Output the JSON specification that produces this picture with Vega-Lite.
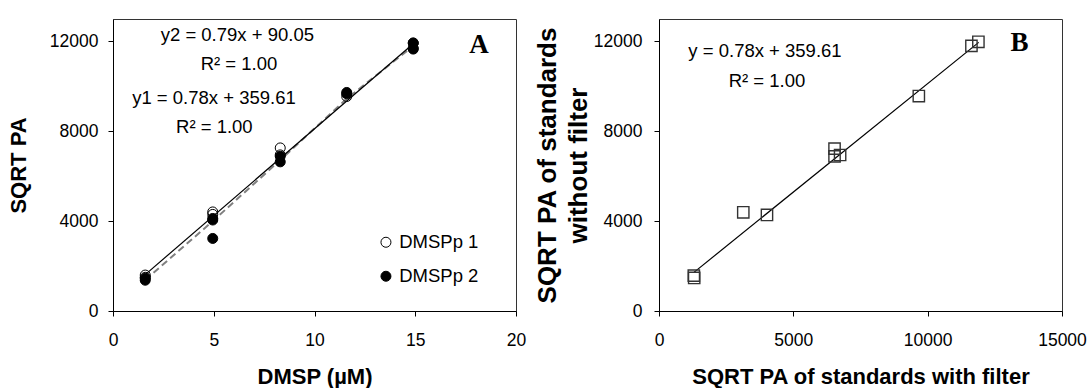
{
  "$schema": "https://vega.github.io/schema/vega-lite/v6.json",
  "padding": {"left": 6, "top": 18, "right": 0, "bottom": 0},
  "spacing": 143,
  "bounds": "flush",
  "background": "white",
  "config": {
    "font": "Liberation Sans",
    "view": {"stroke": "#333333", "strokeWidth": 1},
    "axis": {
      "grid": false, "domainColor": "black", "domainWidth": 1, "tickColor": "black", "tickSize": 5, "tickWidth": 1,
      "labelFont": "Liberation Sans", "labelFontSize": 17.5, "labelColor": "black",
      "titleFont": "Liberation Sans", "titleFontWeight": "bold", "titleColor": "black", "titleFontSize": 22,
      "labelFlush": false, "labelOverlap": false, "labelBound": false
    }
  },
  "datasets": {
    "pointsA": [
      {"series": "DMSPp 1", "x": 1.6, "y": 1600},
      {"series": "DMSPp 1", "x": 1.6, "y": 1500},
      {"series": "DMSPp 1", "x": 4.95, "y": 4410},
      {"series": "DMSPp 1", "x": 4.95, "y": 4300},
      {"series": "DMSPp 1", "x": 8.3, "y": 7260},
      {"series": "DMSPp 1", "x": 8.3, "y": 6950},
      {"series": "DMSPp 1", "x": 11.6, "y": 9550},
      {"series": "DMSPp 1", "x": 14.9, "y": 11930},
      {"series": "DMSPp 1", "x": 14.9, "y": 11700},
      {"series": "DMSPp 2", "x": 1.6, "y": 1370},
      {"series": "DMSPp 2", "x": 1.6, "y": 1460},
      {"series": "DMSPp 2", "x": 4.95, "y": 4120},
      {"series": "DMSPp 2", "x": 4.95, "y": 4050},
      {"series": "DMSPp 2", "x": 4.95, "y": 3230},
      {"series": "DMSPp 2", "x": 8.3, "y": 6890},
      {"series": "DMSPp 2", "x": 8.3, "y": 6640},
      {"series": "DMSPp 2", "x": 11.6, "y": 9730},
      {"series": "DMSPp 2", "x": 11.6, "y": 9670},
      {"series": "DMSPp 2", "x": 14.9, "y": 11930},
      {"series": "DMSPp 2", "x": 14.9, "y": 11660}
    ],
    "linesA": [
      {"kind": "solid", "x": 1.6, "y": 1620},
      {"kind": "solid", "x": 14.9, "y": 11900},
      {"kind": "dashed", "x": 1.6, "y": 1380},
      {"kind": "dashed", "x": 4.95, "y": 4000},
      {"kind": "dashed", "x": 8.3, "y": 6720},
      {"kind": "dashed", "x": 11.6, "y": 9450},
      {"kind": "dashed", "x": 14.9, "y": 11800}
    ],
    "textA": [
      {"label": "y2 = 0.79x + 90.05", "x": 6.17, "y": 12300},
      {"label": "R² = 1.00", "x": 6.25, "y": 10997},
      {"label": "y1 = 0.78x + 359.61", "x": 5.01, "y": 9480},
      {"label": "R² = 1.00", "x": 5.03, "y": 8192}
    ],
    "panelA": [{"label": "A", "x": 18.16, "y": 11843}],
    "pointsB": [
      {"x": 1296, "y": 1575},
      {"x": 1310, "y": 1470},
      {"x": 3137, "y": 4395},
      {"x": 4019, "y": 4275},
      {"x": 6534, "y": 7230},
      {"x": 6534, "y": 6885},
      {"x": 6741, "y": 6945},
      {"x": 9671, "y": 9570},
      {"x": 11629, "y": 11805},
      {"x": 11888, "y": 11985}
    ],
    "lineB": [
      {"x": 1300, "y": 1720},
      {"x": 11900, "y": 11960}
    ],
    "textB": [
      {"label": "y = 0.78x + 359.61", "x": 3945, "y": 11558},
      {"label": "R² = 1.00", "x": 4020, "y": 10240}
    ],
    "panelB": [{"label": "B", "x": 13420, "y": 11950}]
  },
  "hconcat": [
    {
      "width": 403,
      "height": 292,
      "encoding": {
        "x": {"field": "x", "type": "quantitative", "scale": {"domain": [0, 20], "nice": false, "zero": false},
              "axis": {"title": "DMSP (µM)", "values": [0, 5, 10, 15, 20], "format": "d", "labelPadding": 15, "titlePadding": 18}},
        "y": {"field": "y", "type": "quantitative", "scale": {"domain": [0, 13000], "nice": false},
              "axis": {"title": "SQRT PA", "values": [0, 4000, 8000, 12000], "format": "d", "labelPadding": 10, "titlePadding": 19}}
      },
      "layer": [
        {
          "data": {"name": "linesA"},
          "transform": [{"filter": "datum.kind === 'dashed'"}],
          "mark": {"type": "line", "color": "#808080", "strokeWidth": 2, "strokeDash": [7, 4]}
        },
        {
          "data": {"name": "linesA"},
          "transform": [{"filter": "datum.kind === 'solid'"}],
          "mark": {"type": "line", "color": "black", "strokeWidth": 1.2}
        },
        {
          "data": {"name": "pointsA"},
          "mark": {"type": "point", "shape": "circle", "filled": true, "size": 100, "stroke": "black", "strokeWidth": 1, "opacity": 1},
          "encoding": {
            "fill": {"field": "series", "type": "nominal",
                     "scale": {"domain": ["DMSPp 1", "DMSPp 2"], "range": ["transparent", "black"]},
                     "legend": {"title": null, "orient": "none", "legendX": 263.7, "legendY": 214, "padding": 0,
                                "symbolType": "circle", "symbolSize": 100, "symbolStrokeColor": "black", "symbolStrokeWidth": 1,
                                "labelFont": "Liberation Sans", "labelFontSize": 18.5, "labelColor": "black",
                                "rowPadding": 15, "labelOffset": 4}}
          }
        },
        {
          "data": {"name": "textA"},
          "mark": {"type": "text", "font": "Liberation Sans", "fontSize": 18.5, "color": "black", "align": "center", "baseline": "middle"},
          "encoding": {"text": {"field": "label"}}
        },
        {
          "data": {"name": "panelA"},
          "mark": {"type": "text", "font": "Liberation Serif", "fontWeight": "bold", "fontSize": 27, "color": "black", "align": "center", "baseline": "middle"},
          "encoding": {"text": {"field": "label"}}
        }
      ]
    },
    {
      "width": 403,
      "height": 292,
      "encoding": {
        "x": {"field": "x", "type": "quantitative", "scale": {"domain": [0, 15000], "nice": false, "zero": false},
              "axis": {"title": "SQRT PA of standards with filter", "values": [0, 5000, 10000, 15000], "format": "d", "labelPadding": 15, "titlePadding": 18}},
        "y": {"field": "y", "type": "quantitative", "scale": {"domain": [0, 13000], "nice": false},
              "axis": {"title": ["SQRT PA of standards", "without filter"], "titleFontSize": 26, "titleLineHeight": 31,
                       "values": [0, 4000, 8000, 12000], "format": "d", "labelPadding": 12, "titlePadding": 2}}
      },
      "layer": [
        {
          "data": {"name": "lineB"},
          "mark": {"type": "line", "color": "black", "strokeWidth": 1.2}
        },
        {
          "data": {"name": "pointsB"},
          "mark": {"type": "point", "shape": "square", "filled": false, "size": 128, "stroke": "#333333", "strokeWidth": 1.4, "opacity": 1}
        },
        {
          "data": {"name": "textB"},
          "mark": {"type": "text", "font": "Liberation Sans", "fontSize": 18.5, "color": "black", "align": "center", "baseline": "middle"},
          "encoding": {"text": {"field": "label"}}
        },
        {
          "data": {"name": "panelB"},
          "mark": {"type": "text", "font": "Liberation Serif", "fontWeight": "bold", "fontSize": 27, "color": "black", "align": "center", "baseline": "middle"},
          "encoding": {"text": {"field": "label"}}
        }
      ]
    }
  ]
}
